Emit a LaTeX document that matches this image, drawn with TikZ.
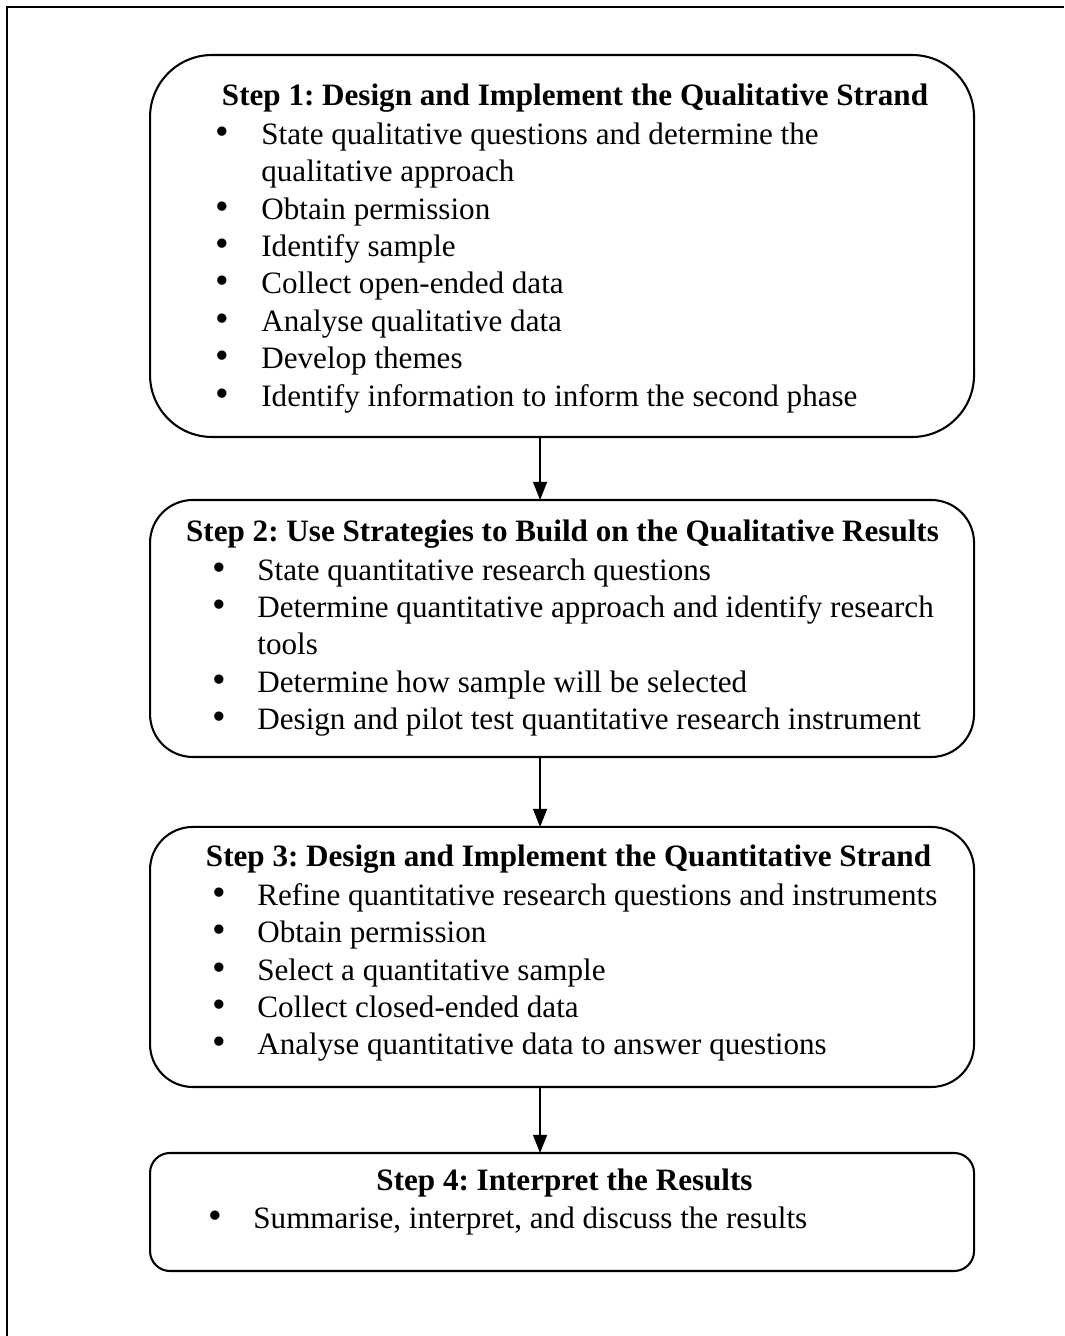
\documentclass[tikz,border=0pt]{standalone}
\usepackage{fontspec}
\setmainfont{Liberation Serif}
\usetikzlibrary{arrows.meta}
\frenchspacing
\newcommand{\bul}{\makebox[17.5pt][l]{\strut{\fontsize{15}{14.46}\selectfont\textbullet}}}
\newcommand{\cont}{\hspace*{17.5pt}\strut}

\begin{document}
\begin{tikzpicture}[every node/.style={font=\fontsize{12}{14.46}\selectfont},
  stepbox/.style={draw, line width=0.8pt, minimum width=11.17cm, outer sep=0pt},
  steptitle/.style={anchor=base, inner sep=0pt, font=\fontsize{12}{14.46}\selectfont\bfseries},
  steplist/.style={anchor=north west, inner sep=0pt, align=left},
  flow/.style={-{Triangle[length=7pt, width=5.4pt]}, line width=0.6pt}]
\useasboundingbox (0,0) rectangle (14.424,18.111);
% Outer frame
\draw[line width=0.7pt] (0.095,0) |- (14.424,18.016);

% Step boxes
\node[stepbox, minimum height=5.178cm, rounded corners=0.84cm] (step1) at (7.619,14.776) {};
\node[stepbox, minimum height=3.484cm, rounded corners=0.58cm] (step2) at (7.619,9.591) {};
\node[stepbox, minimum height=3.525cm, rounded corners=0.58cm] (step3) at (7.619,5.138) {};
\node[stepbox, minimum height=1.600cm, rounded corners=0.27cm] (step4) at (7.619,1.681) {};

% Titles
\node[steptitle] (title1) at (7.795,16.674) {Step 1: Design and Implement the Qualitative Strand};
\node[steptitle] (title2) at (7.626,10.764) {Step 2: Use Strategies to Build on the Qualitative Results};
\node[steptitle] (title3) at (7.707,6.358) {Step 3: Design and Implement the Quantitative Strand};
\node[steptitle] (title4) at (7.653,1.979) {Step 4: Interpret the Results};

% Bullet lists
\node[steplist] (list1) at (2.921,16.521) {\bul State qualitative questions and determine the\\
  \cont qualitative approach\\
  \bul Obtain permission\\
  \bul Identify sample\\
  \bul Collect open-ended data\\
  \bul Analyse qualitative data\\
  \bul Develop themes\\
  \bul Identify information to inform the second phase};
\node[steplist] (list2) at (2.867,10.611) {\bul State quantitative research questions\\
  \bul Determine quantitative approach and identify research\\
  \cont tools\\
  \bul Determine how sample will be selected\\
  \bul Design and pilot test quantitative research instrument};
\node[steplist] (list3) at (2.867,6.205) {\bul Refine quantitative research questions and instruments\\
  \bul Obtain permission\\
  \bul Select a quantitative sample\\
  \bul Collect closed-ended data\\
  \bul Analyse quantitative data to answer questions};
\node[steplist] (list4) at (2.813,1.826) {\bul Summarise, interpret, and discuss the results};

% Arrows
\draw[flow] ([xshift=-0.298cm]step1.south) -- ([xshift=-0.298cm]step2.north);
\draw[flow] ([xshift=-0.298cm]step2.south) -- ([xshift=-0.298cm]step3.north);
\draw[flow] ([xshift=-0.298cm]step3.south) -- ([xshift=-0.298cm]step4.north);
\end{tikzpicture}
\end{document}
